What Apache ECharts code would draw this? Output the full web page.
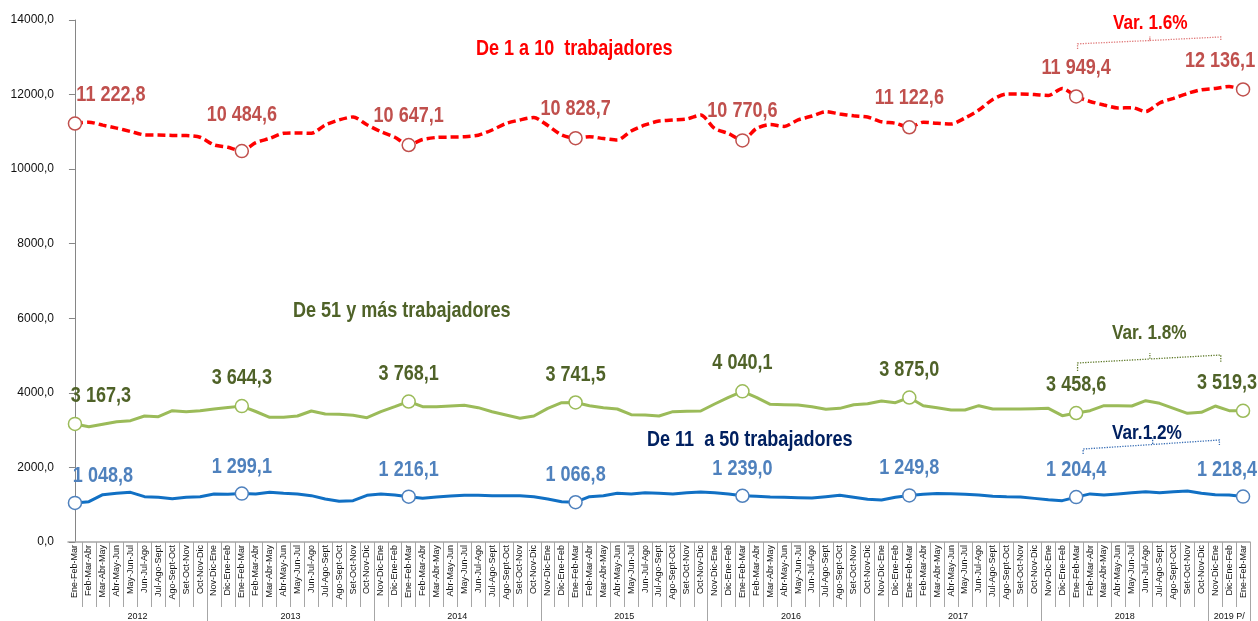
<!DOCTYPE html>
<html>
<head>
<meta charset="utf-8">
<title>Trabajadores por tamaño de empresa</title>
<script src="https://cdn.jsdelivr.net/npm/echarts@6/dist/echarts.min.js"></script>
<style>
    html, body { margin: 0; padding: 0; background: #fff; }
    #chart { width: 1258px; height: 621px; }
</style>
</head>
<body>
<div id="chart"></div>
<script>
// trimestres móviles, 2012 - 2019 P/
var categories = [
    'Ene-Feb-Mar','Feb-Mar-Abr','Mar-Abr-May','Abr-May-Jun','May-Jun-Jul','Jun-Jul-Ago','Jul-Ago-Sept','Ago-Sept-Oct','Set-Oct-Nov','Oct-Nov-Dic',
    'Nov-Dic-Ene','Dic-Ene-Feb','Ene-Feb-Mar','Feb-Mar-Abr','Mar-Abr-May','Abr-May-Jun','May-Jun-Jul','Jun-Jul-Ago','Jul-Ago-Sept','Ago-Sept-Oct','Set-Oct-Nov','Oct-Nov-Dic',
    'Nov-Dic-Ene','Dic-Ene-Feb','Ene-Feb-Mar','Feb-Mar-Abr','Mar-Abr-May','Abr-May-Jun','May-Jun-Jul','Jun-Jul-Ago','Jul-Ago-Sept','Ago-Sept-Oct','Set-Oct-Nov','Oct-Nov-Dic',
    'Nov-Dic-Ene','Dic-Ene-Feb','Ene-Feb-Mar','Feb-Mar-Abr','Mar-Abr-May','Abr-May-Jun','May-Jun-Jul','Jun-Jul-Ago','Jul-Ago-Sept','Ago-Sept-Oct','Set-Oct-Nov','Oct-Nov-Dic',
    'Nov-Dic-Ene','Dic-Ene-Feb','Ene-Feb-Mar','Feb-Mar-Abr','Mar-Abr-May','Abr-May-Jun','May-Jun-Jul','Jun-Jul-Ago','Jul-Ago-Sept','Ago-Sept-Oct','Set-Oct-Nov','Oct-Nov-Dic',
    'Nov-Dic-Ene','Dic-Ene-Feb','Ene-Feb-Mar','Feb-Mar-Abr','Mar-Abr-May','Abr-May-Jun','May-Jun-Jul','Jun-Jul-Ago','Jul-Ago-Sept','Ago-Sept-Oct','Set-Oct-Nov','Oct-Nov-Dic',
    'Nov-Dic-Ene','Dic-Ene-Feb','Ene-Feb-Mar','Feb-Mar-Abr','Mar-Abr-May','Abr-May-Jun','May-Jun-Jul','Jun-Jul-Ago','Jul-Ago-Sept','Ago-Sept-Oct','Set-Oct-Nov','Oct-Nov-Dic',
    'Nov-Dic-Ene','Dic-Ene-Feb','Ene-Feb-Mar'
];
var yearNames = ['2012','2013','2014','2015','2016','2017','2018','2019 P/'];
var yearStart = [0, 10, 22, 34, 46, 58, 70, 82];

// De 1 a 10 trabajadores
var micro = [
    11222.8, 11260, 11180, 11100, 11010, 10920, 10915, 10905, 10900, 10855,
    10650, 10585, 10484.6, 10710, 10825, 10960, 10970, 10960, 11185, 11320, 11400, 11190,
    11005, 10855, 10647.1, 10795, 10850, 10860, 10870, 10910, 11050, 11225, 11320, 11385,
    11170, 10915, 10828.7, 10870, 10820, 10780, 11025, 11185, 11290, 11320, 11345, 11450,
    11090, 10955, 10770.6, 11090, 11195, 11145, 11320, 11425, 11540, 11480, 11430, 11400,
    11270, 11230, 11122.6, 11260, 11230, 11210, 11370, 11585, 11870, 12015, 12015, 12000,
    11975, 12165, 11949.4, 11815, 11720, 11640, 11650, 11545, 11775, 11900, 12030, 12130,
    12165, 12215, 12136.1
];
// De 11 a 50 trabajadores
var pequena = [
    1048.8, 1082, 1270, 1305, 1332, 1216, 1198, 1162, 1198, 1216,
    1287, 1278, 1299.1, 1287, 1332, 1305, 1287, 1243, 1153, 1091, 1109, 1252,
    1287, 1260, 1216.1, 1171, 1207, 1234, 1252, 1252, 1243, 1243, 1243, 1216,
    1153, 1082, 1066.8, 1216, 1243, 1305, 1287, 1323, 1305, 1287, 1323, 1340,
    1323, 1287, 1239.0, 1225, 1207, 1198, 1189, 1180, 1216, 1252, 1198, 1144,
    1126, 1198, 1249.8, 1278, 1300, 1295, 1278, 1260, 1230, 1215, 1205, 1170,
    1135, 1109, 1204.4, 1290, 1260, 1290, 1320, 1350, 1323, 1350, 1370, 1305,
    1269, 1260, 1218.4
];
// De 51 y más trabajadores
var grande = [
    3167.3, 3093, 3160, 3227, 3254, 3379, 3361, 3522, 3495, 3522,
    3567, 3610, 3644.3, 3500, 3344, 3344, 3379, 3513, 3433, 3424, 3397, 3334,
    3495, 3629, 3768.1, 3629, 3629, 3648, 3665, 3603, 3495, 3406, 3317, 3379,
    3585, 3737, 3741.5, 3656, 3603, 3567, 3415, 3406, 3379, 3495, 3504, 3513,
    3701, 3880, 4040.1, 3880, 3692, 3683, 3674, 3629, 3558, 3585, 3683, 3710,
    3781, 3737, 3875.0, 3656, 3603, 3540, 3540, 3656, 3567, 3567, 3567, 3576,
    3585, 3388, 3458.6, 3522, 3656, 3656, 3647, 3790, 3719, 3585, 3451, 3478,
    3647, 3522, 3519.3
];
// puntos con etiqueta (Ene-Feb-Mar de cada año)
var markIdx = [0, 12, 24, 36, 48, 60, 72, 84];

// llaves de variación (posición de trimestre, valor)
var llaveMicro = [[72.1, 13220], [72.1, 13360], [77.3, 13450], [77.3, 13560], [77.3, 13450], [82.4, 13545], [82.4, 13440]];
var llaveGrande = [[72.1, 4586], [72.1, 4801], [77.3, 4908], [77.3, 5069], [77.3, 4908], [82.4, 5015], [82.4, 4828]];
var llavePequena = [[72.5, 2360], [72.5, 2494], [77.5, 2615], [77.5, 2789], [77.5, 2615], [82.3, 2736], [82.3, 2602]];

var ARIAL = "'Liberation Sans', Arial, sans-serif";
var NARROW_X = 0.82;   // Arial Narrow ~ Arial comprimida

function fmt(v) {
    var s = v.toFixed(1).split('.');
    return s[0].replace(/\B(?=(\d{3})+(?!\d))/g, ' ') + ',' + s[1];
}

// posición de la etiqueta del año: centro de su tramo
var yearLabel = {};
yearStart.forEach(function (start, k) {
    var end = k < yearStart.length - 1 ? yearStart[k + 1] - 1 : categories.length - 1;
    var mid = (start + end) / 2;
    yearLabel[Math.ceil(mid)] = (mid % 1 !== 0) ? '{s|' + yearNames[k] + '}' : yearNames[k];
});

function serie(name, values, opt) {
    return {
        name: name,
        type: 'line',
        smooth: opt.smooth,
        showAllSymbol: true,
        symbolSize: 13,
        clip: false,
        lineStyle: opt.line,
        itemStyle: { color: '#fff', borderColor: opt.mark, borderWidth: 1.5 },
        emphasis: { disabled: true },
        data: values.map(function (v, i) {
            return markIdx.indexOf(i) < 0 ? { value: v, symbol: 'none' } : { value: v, symbol: 'circle' };
        }),
        z: 3
    };
}

// etiquetas de valor en letra estrecha
function etiquetas(values, opt) {
    return {
        type: 'custom',
        xAxisIndex: 0,
        yAxisIndex: 0,
        silent: true,
        clip: false,
        z: 5,
        data: markIdx.map(function (i) { return [i, values[i]]; }),
        renderItem: function (params, api) {
            var i = api.value(0);
            var p = api.coord([i, api.value(1)]);
            var off = [0, opt.dy];
            if (i === markIdx[0]) off = [opt.first, opt.dy];
            if (i === markIdx[markIdx.length - 1]) off = [opt.last, opt.dy];
            if (opt.extra && opt.extra[i] != null) off = [0, opt.extra[i]];
            return {
                type: 'text',
                x: p[0] + off[0],
                y: p[1] + off[1],
                scaleX: NARROW_X,
                style: {
                    text: fmt(api.value(1)),
                    fill: opt.color,
                    font: 'bold 22px ' + ARIAL,
                    align: 'center',
                    verticalAlign: 'middle'
                }
            };
        }
    };
}

function llave(coords, color) {
    return {
        type: 'lines',
        coordinateSystem: 'cartesian2d',
        xAxisIndex: 2,
        yAxisIndex: 0,
        polyline: true,
        silent: true,
        lineStyle: { color: color, width: 1.3, type: 'dotted', opacity: 1 },
        data: [{ coords: coords }],
        z: 2
    };
}

function rotulo(text, x, y, size, color) {
    return {
        type: 'text',
        x: x,
        y: y,
        scaleX: NARROW_X,
        silent: true,
        style: {
            text: text,
            fill: color,
            font: 'bold ' + size + 'px ' + ARIAL,
            align: 'left',
            verticalAlign: 'middle'
        }
    };
}

var myChart = echarts.init(document.getElementById('chart'));

var option = {
    backgroundColor: '#fff',
    animation: false,
    graphic: [
        rotulo('De 1 a 10  trabajadores', 476, 49, 22, '#ff0000'),
        rotulo('De 51 y más trabajadores', 293, 311, 22, '#4f6228'),
        rotulo('De 11  a 50 trabajadores', 647, 440, 22, '#002060'),
        rotulo('Var. 1.6%', 1113, 23, 21, '#ff0000'),
        rotulo('Var. 1.8%', 1112, 333, 21, '#4f6228'),
        rotulo('Var.1.2%', 1112, 433, 21, '#002060')
    ],
    grid: { left: 68, right: 8, top: 20, bottom: 79 },
    xAxis: [
        {
            type: 'category',
            data: categories,
            boundaryGap: true,
            axisLine: { lineStyle: { color: '#a6a6a6', width: 1.5 } },
            axisTick: {
                show: true,
                interval: function (i) { return i > 0; },
                length: 65,
                lineStyle: { color: '#a6a6a6' }
            },
            axisLabel: {
                interval: 0,
                rotate: 90,
                margin: 3,
                fontSize: 9,
                color: '#111',
                fontFamily: ARIAL
            }
        },
        {
            type: 'category',
            data: categories,
            position: 'bottom',
            boundaryGap: true,
            axisLine: { show: false },
            axisTick: {
                show: true,
                interval: function (i) { return yearStart.indexOf(i) > 0; },
                length: 79,
                lineStyle: { color: '#a6a6a6' }
            },
            axisLabel: {
                interval: function (i) { return yearLabel[i] != null; },
                formatter: function (v, i) { return yearLabel[i] || ''; },
                margin: 70,
                fontSize: 9,
                color: '#111',
                fontFamily: ARIAL,
                rich: { s: { padding: [0, 14, 0, 0], fontSize: 9, color: '#111', fontFamily: ARIAL } }
            }
        },
        { type: 'value', min: -0.5, max: 84.5, show: false }
    ],
    yAxis: {
        type: 'value',
        min: 0,
        max: 14000,
        interval: 2000,
        axisLine: { show: true, lineStyle: { color: '#868686' } },
        axisTick: { show: true, length: 6, lineStyle: { color: '#868686' } },
        splitLine: { show: false },
        axisLabel: {
            margin: 14,
            fontSize: 12,
            color: '#111',
            fontFamily: ARIAL,
            formatter: function (v) { return v.toFixed(1).replace('.', ','); }
        }
    },
    series: [
        serie('De 1 a 10 trabajadores', micro, {
            smooth: 0.25,
            line: { color: '#ff0000', width: 3.5, type: [8, 4] },
            mark: '#c0504d'
        }),
        serie('De 51 y más trabajadores', grande, {
            smooth: false,
            line: { color: '#9bbb59', width: 3 },
            mark: '#9bbb59'
        }),
        serie('De 11 a 50 trabajadores', pequena, {
            smooth: false,
            line: { color: '#1170c4', width: 3 },
            mark: '#4f81bd'
        }),
        etiquetas(micro, { color: '#c0504d', dy: -29, first: 36, last: -23, extra: { 12: -36 } }),
        etiquetas(grande, { color: '#4f6228', dy: -28, first: 26, last: -16 }),
        etiquetas(pequena, { color: '#4f81bd', dy: -27, first: 28, last: -16 }),
        llave(llaveMicro, '#e07a7a'),
        llave(llaveGrande, '#5f7a2a'),
        llave(llavePequena, '#3a6fb5')
    ]
};

myChart.setOption(option);
</script>
</body>
</html>
